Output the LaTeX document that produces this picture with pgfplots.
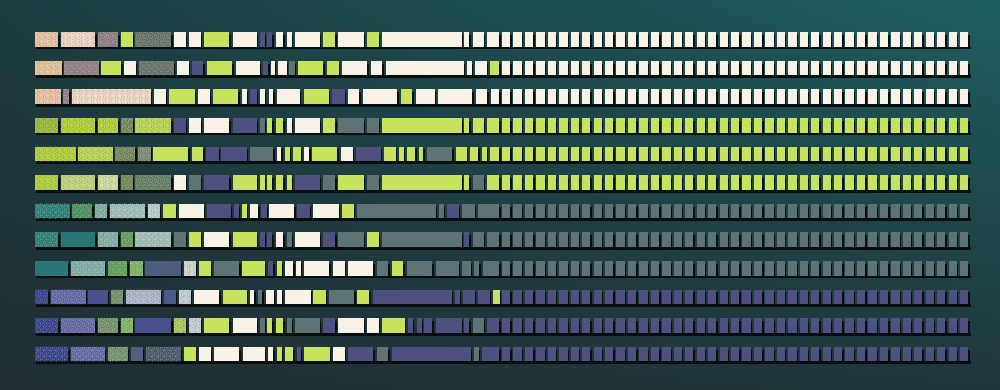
\documentclass[border=0pt]{standalone}
\usepackage{pgfplots}
\usepackage{pgfplotstable}
\usetikzlibrary{shadings,patterns}
\pgfplotsset{compat=1.18}
\definecolor{shadowc}{RGB}{8,14,16}
\definecolor{bgUL}{RGB}{28,60,64}
\definecolor{bgUR}{RGB}{28,94,96}
\definecolor{bgLL}{RGB}{32,46,50}
\definecolor{bgLR}{RGB}{32,54,58}
\definecolor{pc0}{RGB}{248,242,231}
\definecolor{pc1}{RGB}{199,226,92}
\definecolor{pc2}{RGB}{78,81,128}
\definecolor{pc3}{RGB}{94,116,116}
\definecolor{pc4}{RGB}{236,196,166}
\definecolor{pc5}{RGB}{242,218,198}
\definecolor{pc6}{RGB}{146,132,138}
\definecolor{pc7}{RGB}{106,120,110}
\definecolor{pc8}{RGB}{230,198,154}
\definecolor{pc9}{RGB}{158,188,54}
\definecolor{pc10}{RGB}{180,210,60}
\definecolor{pc11}{RGB}{120,142,92}
\definecolor{pc12}{RGB}{132,142,116}
\definecolor{pc13}{RGB}{196,214,126}
\definecolor{pc14}{RGB}{212,224,160}
\definecolor{pc15}{RGB}{104,132,102}
\definecolor{pc16}{RGB}{46,132,124}
\definecolor{pc17}{RGB}{78,150,94}
\definecolor{pc18}{RGB}{132,178,170}
\definecolor{pc19}{RGB}{162,194,186}
\definecolor{pc20}{RGB}{188,212,204}
\definecolor{pc21}{RGB}{40,118,118}
\definecolor{pc22}{RGB}{102,164,94}
\definecolor{pc23}{RGB}{132,186,106}
\definecolor{pc24}{RGB}{78,92,128}
\definecolor{pc25}{RGB}{210,218,210}
\definecolor{pc26}{RGB}{58,70,144}
\definecolor{pc27}{RGB}{102,108,172}
\definecolor{pc28}{RGB}{74,80,142}
\definecolor{pc29}{RGB}{120,150,110}
\definecolor{pc30}{RGB}{180,184,206}
\definecolor{pc31}{RGB}{76,90,136}
\definecolor{pc32}{RGB}{202,210,214}
\definecolor{pc33}{RGB}{180,204,92}
\definecolor{pc34}{RGB}{76,94,110}
\definecolor{pc35}{RGB}{80,96,128}
\definecolor{pc36}{RGB}{190,216,84}
\pgfdeclarepatternformonly{grainA}{\pgfpoint{0pt}{0pt}}{\pgfpoint{3pt}{3pt}}{\pgfpoint{3pt}{3pt}}{%
  \pgfpathrectangle{\pgfpoint{0.2pt}{0.3pt}}{\pgfpoint{0.45pt}{0.45pt}}%
  \pgfpathrectangle{\pgfpoint{1.4pt}{0.9pt}}{\pgfpoint{0.45pt}{0.45pt}}%
  \pgfpathrectangle{\pgfpoint{2.3pt}{0.2pt}}{\pgfpoint{0.45pt}{0.45pt}}%
  \pgfpathrectangle{\pgfpoint{0.7pt}{1.8pt}}{\pgfpoint{0.45pt}{0.45pt}}%
  \pgfpathrectangle{\pgfpoint{2.0pt}{1.6pt}}{\pgfpoint{0.45pt}{0.45pt}}%
  \pgfpathrectangle{\pgfpoint{1.1pt}{2.5pt}}{\pgfpoint{0.45pt}{0.45pt}}%
  \pgfpathrectangle{\pgfpoint{2.5pt}{2.4pt}}{\pgfpoint{0.45pt}{0.45pt}}%
  \pgfusepath{fill}}
\pgfdeclarepatternformonly{grainB}{\pgfpoint{0pt}{0pt}}{\pgfpoint{3pt}{3pt}}{\pgfpoint{3pt}{3pt}}{%
  \pgfpathrectangle{\pgfpoint{0.9pt}{0.2pt}}{\pgfpoint{0.45pt}{0.45pt}}%
  \pgfpathrectangle{\pgfpoint{2.0pt}{0.8pt}}{\pgfpoint{0.45pt}{0.45pt}}%
  \pgfpathrectangle{\pgfpoint{0.3pt}{1.1pt}}{\pgfpoint{0.45pt}{0.45pt}}%
  \pgfpathrectangle{\pgfpoint{1.5pt}{1.7pt}}{\pgfpoint{0.45pt}{0.45pt}}%
  \pgfpathrectangle{\pgfpoint{2.5pt}{2.0pt}}{\pgfpoint{0.45pt}{0.45pt}}%
  \pgfpathrectangle{\pgfpoint{0.6pt}{2.5pt}}{\pgfpoint{0.45pt}{0.45pt}}%
  \pgfpathrectangle{\pgfpoint{1.9pt}{2.6pt}}{\pgfpoint{0.45pt}{0.45pt}}%
  \pgfusepath{fill}}
\makeatletter
\def\texset{,4,5,6,7,8,9,10,11,12,13,14,15,16,17,18,19,20,22,23,25,26,27,29,30,32,33,34,36,}
\pgfdeclareplotmark{seg}{%
  \pgfmathsetlengthmacro\segwl{\segw*0.5pt}%
  \pgfmathtruncatemacro\segci{\segc}%
  \pgfsetfillcolor{shadowc}%
  \pgfpathrectangle{\pgfpoint{0.7pt}{-5.0pt}}{\pgfpoint{\segwl}{7.25pt}}%
  \pgfusepathqfill
  \pgfsetfillcolor{pc\segci}%
  \pgfpathrectangle{\pgfpoint{0pt}{-3.625pt}}{\pgfpoint{\segwl}{7.25pt}}%
  \pgfusepathqfill
  \edef\segtmp{\noexpand\in@{,\segci,}{\texset}}\segtmp
  \ifin@
    \pgfscope
    \pgfsetfillopacity{0.45}%
    \pgfsetfillpattern{grainA}{white}%
    \pgfpathrectangle{\pgfpoint{0pt}{-3.625pt}}{\pgfpoint{\segwl}{7.25pt}}%
    \pgfusepathqfill
    \pgfsetfillopacity{0.35}%
    \pgfsetfillpattern{grainB}{black}%
    \pgfpathrectangle{\pgfpoint{0pt}{-3.625pt}}{\pgfpoint{\segwl}{7.25pt}}%
    \pgfusepathqfill
    \endpgfscope
  \fi}
\makeatother

\pgfplotstableread{
x w c
35 23.3 4
60.7 34.6 5
97.7 20.6 6
120.7 12 1
135.3 36 7
174 11.7 0
189.3 11.4 0
204 25.3 1
233 23.7 0
260 5 2
267.3 5 2
275.5 7.8 0
286.7 5 0
295 25 0
323.3 12 1
338.3 25.7 0
367.3 11.7 1
382.3 79.4 0
464.3 5 0
472.7 11.3 0
487.3 12 0
}\rowI
\pgfplotstableread{
x w c
35 26.7 8
64 35 6
101.3 20 1
124 12 0
139 35 7
177.3 11.7 0
192.3 11 2
207 25.3 1
235.7 24.3 0
263.3 5 2
270.7 4.3 0
278.3 8.4 0
289.3 5.4 3
298.3 25 1
326.7 12 1
342 25.3 0
370.7 11.6 0
385.7 78.3 0
467.3 4.7 0
475.3 11.4 0
490 9.3 1
}\rowII
\pgfplotstableread{
x w c
35 25.7 4
63.3 6 6
71.7 79.3 5
154.3 11.7 0
169.3 25.7 1
198.3 11.7 0
213.3 25 1
241.7 5 0
250 6.7 2
260 5 0
269 4.3 0
276.7 23.3 0
304 25 1
332.3 12.7 2
347.7 11.6 0
362.7 34.6 0
400.7 11.6 1
415.7 19.3 0
438.3 34 0
475.7 11.6 0
490.7 8.6 0
}\rowIII
\pgfplotstableread{
x w c
35 23.3 9
60.7 34.6 10
97.7 20.6 10
120.7 12 11
135.3 36 36
174 11.7 2
189.3 11.4 0
204 25.3 0
233 23.7 2
260 5 3
267.3 5 1
275.5 7.8 1
286.7 5 0
295 25 0
323.3 12 1
338.3 25.7 3
367.3 11.7 3
382.3 79.4 1
464.3 5 1
472.7 11.3 1
487.3 12 1
}\rowIV
\pgfplotstableread{
x w c
35 40.7 10
78.3 34.4 36
115 20.3 11
137.7 13 12
153.3 35 1
191.7 11.6 1
206 12.7 2
221.3 25.7 2
250 23.3 3
276.7 4.6 0
285 5 1
293.3 7.4 1
304.3 5 0
312.3 25 1
341 11.7 0
355.7 25.3 2
384.3 11.7 1
399.3 4.7 1
407.3 8 1
418.7 4.6 1
426.7 25.6 3
455.7 11 1
470 8.3 1
481.7 5 1
490 9.3 1
}\rowV
\pgfplotstableread{
x w c
35 23.3 10
60.7 34.6 13
97.7 20.6 14
120.7 12 11
135.3 36 15
174 11.7 0
189.3 11.4 3
204 25.3 2
233 23.7 1
260 5 1
267.3 5 1
275.5 7.8 1
286.7 5 1
295 25 2
323.3 12 3
338.3 25.7 1
367.3 11.7 3
382.3 79.4 1
464.3 5 1
472.7 11.3 3
487.3 12 1
}\rowVI
\pgfplotstableread{
x w c
35 35 16
72.3 20 17
95 12.3 18
110 35.3 19
148.3 11.7 20
163.3 12.4 1
178.7 25 0
206.7 24.3 2
234 5 2
242 5 1
250 8.3 0
261 5.7 2
269.3 25 0
297.3 12.7 2
313.3 25.4 0
341.7 12.3 1
356.7 79 3
439 4.7 3
446.7 12.3 2
462 12.7 3
478.3 21 3
}\rowVII
\pgfplotstableread{
x w c
35 23.3 16
60.7 34.6 21
97.7 20.6 18
120.7 12 22
135.3 36 19
174 11.7 3
189.3 11.4 1
204 25.3 0
233 23.7 1
260 5 2
267.3 5 2
275.5 7.8 0
286.7 5 3
295 25 0
323.3 12 2
338.3 25.7 3
367.3 11.7 1
382.3 79.4 3
464.3 5 2
472.7 11.3 3
487.3 12 3
}\rowVIII
\pgfplotstableread{
x w c
35 33.3 21
70.7 34.3 18
107.7 19.6 22
130 12.7 23
145 36 24
183.7 12 25
198.7 12 1
213.7 25.6 3
242.3 22.7 1
268.3 5 2
276.7 5 1
285 8.3 0
296 4.7 0
304 25.3 0
333.3 11.7 0
348.3 25 0
376.7 11.6 3
391.7 11.6 1
406.7 25.6 3
435.7 23.3 3
462.3 8.4 3
474 5.3 3
482.7 16.6 3
}\rowIX
\pgfplotstableread{
x w c
35 13.3 26
50.7 35 27
88.3 19.4 28
110.7 12 29
126 35 30
164 11.7 31
179 11.7 32
194 25.3 0
222.7 24 1
250 4.3 0
257.7 4.6 3
265.7 8.3 0
276.7 5 0
285 25.7 0
313.3 12.4 1
329 25.3 3
357.3 12 1
372.7 79 2
455 5 2
462.7 12.3 2
477.7 12.3 2
493.3 6.7 1
}\rowX
\pgfplotstableread{
x w c
35 23.3 26
60.7 34.6 27
97.7 20.6 29
120.7 12 23
135.3 36 28
174 11.7 33
189.3 11.4 32
204 25.3 1
233 23.7 0
260 5 3
267.3 5 1
275.5 7.8 1
286.7 5 3
295 25 3
323.3 12 2
338.3 25.7 0
367.3 11.7 0
382.3 22.7 1
407.7 5 2
416.7 5 2
424 8.3 2
436 25.7 2
464.3 5 2
472.7 11.3 3
487.3 12 2
}\rowXI
\pgfplotstableread{
x w c
35 33.3 26
70.7 34.3 27
108.3 19.4 29
130.7 12 35
146 34.7 34
184 11.7 1
199 11.7 0
214 25.3 0
242.7 22.3 0
268.3 5 0
276.7 5 1
285 8.3 1
296.7 4 2
304 26 1
333.3 11.7 0
348.3 25 2
376.7 11.6 3
391.7 79 2
474 5 3
482.3 17 2
}\rowXII
\pgfplotstableread{
x w
501.9 8.3
513.4 8.3
524.8 8.3
536.3 8.3
547.7 8.3
559.2 8.3
570.6 8.3
582.1 8.3
593.5 8.3
605.0 8.3
616.4 8.3
627.9 8.3
639.3 8.3
650.8 8.3
662.2 8.3
673.7 8.3
685.1 8.3
696.6 8.3
708.0 8.3
719.5 8.3
730.9 8.3
742.4 8.3
753.8 8.3
765.3 8.3
776.7 8.3
788.2 8.3
799.6 8.3
811.1 8.3
822.5 8.3
834.0 8.3
845.4 8.3
856.9 8.3
868.3 8.3
879.8 8.3
891.2 8.3
902.7 8.3
914.1 8.3
925.6 8.3
937.0 8.3
948.5 8.3
959.9 8.3
}\gridtab

\pgfplotsset{
  segs/.style={only marks, mark=seg,
    visualization depends on={\thisrow{w} \as \segw},
    visualization depends on={\thisrow{c} \as \segc}},
  gsegs/.style={only marks, mark=seg,
    visualization depends on={\thisrow{w} \as \segw},
    visualization depends on={#1 \as \segc}},
  band/.style={draw=shadowc, line width=1.4pt, line cap=butt, mark=none}
}
\begin{document}
\begin{tikzpicture}
\begin{axis}[
  scale only axis, width=500pt, height=195pt,
  xmin=0, xmax=1000, ymin=0, ymax=390, y dir=reverse,
  hide axis, clip=true,
  axis background/.style={shade, upper left=bgUL, upper right=bgUR, lower left=bgLL, lower right=bgLR},
]
% shadow bands under each row
\addplot[band] coordinates {(36,48.1) (971,48.1)};
\addplot[band] coordinates {(36,76.7) (971,76.7)};
\addplot[band] coordinates {(36,105.3) (971,105.3)};
\addplot[band] coordinates {(36,133.9) (971,133.9)};
\addplot[band] coordinates {(36,162.5) (971,162.5)};
\addplot[band] coordinates {(36,191.1) (971,191.1)};
\addplot[band] coordinates {(36,219.7) (971,219.7)};
\addplot[band] coordinates {(36,248.3) (971,248.3)};
\addplot[band] coordinates {(36,276.9) (971,276.9)};
\addplot[band] coordinates {(36,305.5) (971,305.5)};
\addplot[band] coordinates {(36,334.1) (971,334.1)};
\addplot[band] coordinates {(36,362.7) (971,362.7)};
% rows
\addplot[segs] table[x=x, y expr=39.5] {\rowI};
\addplot[gsegs=0] table[x=x, y expr=39.5] {\gridtab};
\addplot[segs] table[x=x, y expr=68.1] {\rowII};
\addplot[gsegs=0] table[x=x, y expr=68.1] {\gridtab};
\addplot[segs] table[x=x, y expr=96.7] {\rowIII};
\addplot[gsegs=0] table[x=x, y expr=96.7] {\gridtab};
\addplot[segs] table[x=x, y expr=125.3] {\rowIV};
\addplot[gsegs=1] table[x=x, y expr=125.3] {\gridtab};
\addplot[segs] table[x=x, y expr=153.9] {\rowV};
\addplot[gsegs=1] table[x=x, y expr=153.9] {\gridtab};
\addplot[segs] table[x=x, y expr=182.5] {\rowVI};
\addplot[gsegs=1] table[x=x, y expr=182.5] {\gridtab};
\addplot[segs] table[x=x, y expr=211.1] {\rowVII};
\addplot[gsegs=3] table[x=x, y expr=211.1] {\gridtab};
\addplot[segs] table[x=x, y expr=239.7] {\rowVIII};
\addplot[gsegs=3] table[x=x, y expr=239.7] {\gridtab};
\addplot[segs] table[x=x, y expr=268.3] {\rowIX};
\addplot[gsegs=3] table[x=x, y expr=268.3] {\gridtab};
\addplot[segs] table[x=x, y expr=296.9] {\rowX};
\addplot[gsegs=2] table[x=x, y expr=296.9] {\gridtab};
\addplot[segs] table[x=x, y expr=325.5] {\rowXI};
\addplot[gsegs=2] table[x=x, y expr=325.5] {\gridtab};
\addplot[segs] table[x=x, y expr=354.1] {\rowXII};
\addplot[gsegs=2] table[x=x, y expr=354.1] {\gridtab};
\end{axis}
\pgfresetboundingbox
\path[use as bounding box] (current axis.south west) rectangle (current axis.north east);
\end{tikzpicture}
\end{document}
